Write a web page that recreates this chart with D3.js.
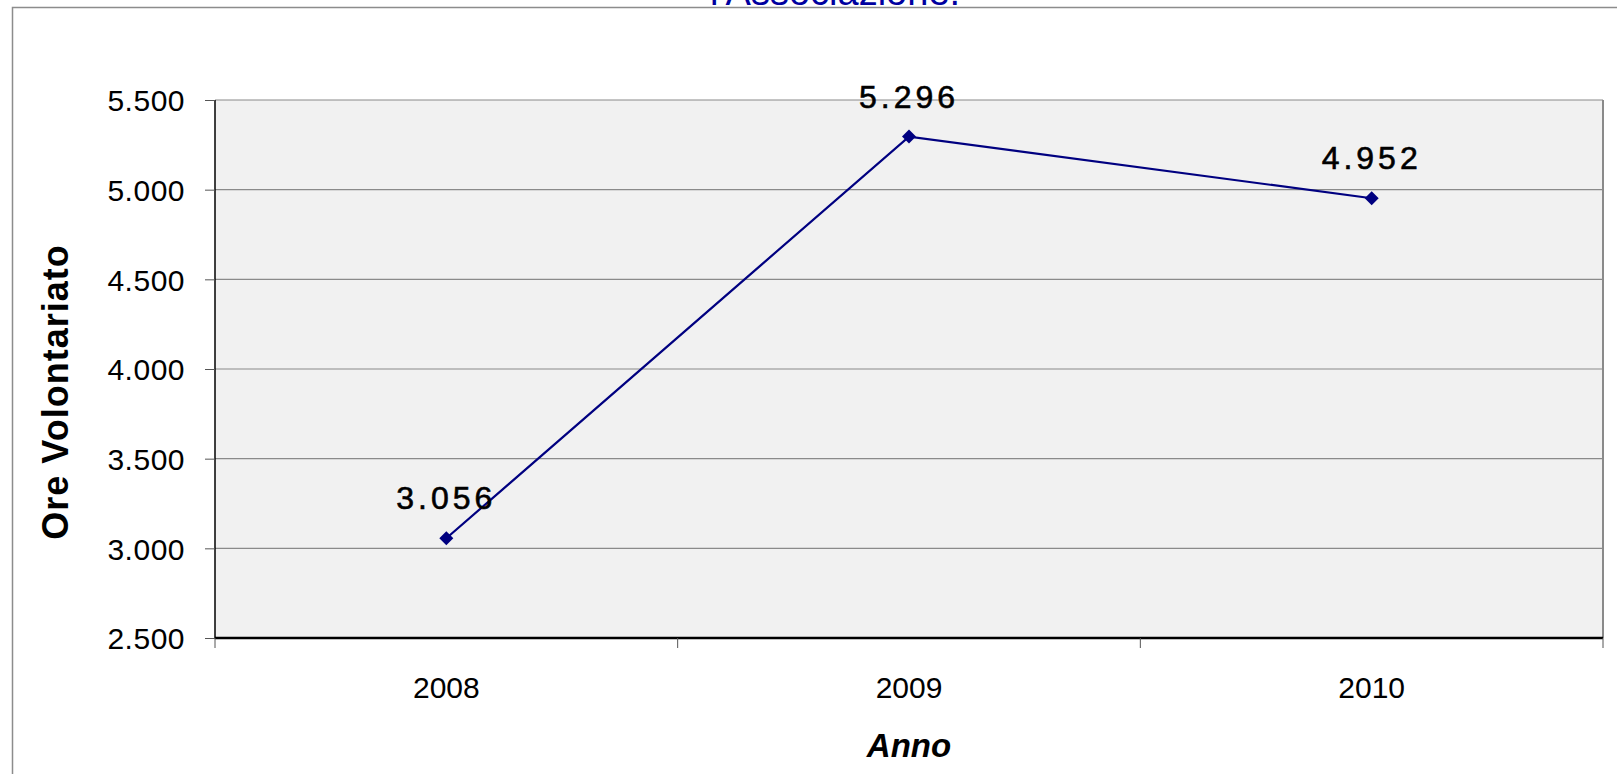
<!DOCTYPE html>
<html lang="it">
<head>
<meta charset="utf-8">
<title>Ore Volontariato</title>
<script src="https://d3js.org/d3.v7.min.js"></script>
<style>
  body { margin: 0; background: #fff; }
  svg text { font-family: "Liberation Sans", Arial, sans-serif; }
</style>
</head>
<body>
<div id="chart"></div>
<script>
// data
var anni = ["2008", "2009", "2010"];
var ore = [3056, 5296, 4952];
var yTicks = [2500, 3000, 3500, 4000, 4500, 5000, 5500];

var W = 1617, H = 774;
var margin = {top: 100, right: 14, bottom: 136, left: 215};
var width = W - margin.left - margin.right,
    height = H - margin.top - margin.bottom;

// numbers with "." as thousands separator
var it = d3.formatLocale({decimal: ",", thousands: ".", grouping: [3], currency: ["", " €"]});
var fmt = it.format(",d");

var svg = d3.select("#chart")
  .append("svg")
    .attr("width", W)
    .attr("height", H);

// outer chart frame (continues past right / bottom edge)
svg.append("rect")
  .attr("x", 12.5).attr("y", 7.5)
  .attr("width", W + 20).attr("height", H + 20)
  .attr("fill", "none")
  .attr("stroke", "#8c8c8c")
  .attr("stroke-width", 1.5);

// title, its last line only partly visible at the top
svg.append("text")
  .attr("x", 835).attr("y", 5)
  .attr("text-anchor", "middle")
  .attr("fill", "#0000a0")
  .style("font-size", "38px")
  .text("l'Associazione.");

var g = svg.append("g")
  .attr("transform", "translate(" + margin.left + "," + margin.top + ")");

var x = d3.scaleBand().domain(anni).range([0, width]).padding(0);
var y = d3.scaleLinear().domain([2500, 5500]).range([height, 0]);

// plot area
g.append("rect")
  .attr("width", width).attr("height", height)
  .attr("fill", "#f1f1f1");

// gridlines
g.selectAll(".grid")
  .data(yTicks.slice(1))
  .enter().append("line")
    .attr("x1", 0).attr("x2", width)
    .attr("y1", function(d) { return y(d); })
    .attr("y2", function(d) { return y(d); })
    .attr("stroke", "#8a8a8a")
    .attr("stroke-width", 1.2);

// right border of plot area
g.append("line")
  .attr("x1", width).attr("x2", width)
  .attr("y1", 0).attr("y2", height)
  .attr("stroke", "#8a8a8a")
  .attr("stroke-width", 2);

// Y axis
var yAxis = g.append("g")
  .call(d3.axisLeft(y).tickValues(yTicks).tickFormat(fmt).tickSize(10).tickPadding(20));
yAxis.select(".domain").attr("stroke", "#000").attr("stroke-width", 1.5).attr("d", "M0," + height + "V0");
yAxis.selectAll(".tick line").attr("stroke", "#555");
yAxis.selectAll("text")
  .attr("fill", "#000")
  .style("font-size", "30px")
  .style("letter-spacing", "0.5px")
  .attr("dy", "0.36em");

// X axis: ticks between categories
var xAxis = g.append("g")
  .attr("transform", "translate(0," + height + ")");
xAxis.append("line")
  .attr("x1", 0).attr("x2", width)
  .attr("stroke", "#000").attr("stroke-width", 2.5);
var bounds = anni.map(function(d) { return x(d); }).concat([width]);
xAxis.selectAll(".xt")
  .data(bounds)
  .enter().append("line")
    .attr("x1", function(d) { return d; })
    .attr("x2", function(d) { return d; })
    .attr("y1", 0).attr("y2", 10)
    .attr("stroke", "#555");
xAxis.selectAll(".xl")
  .data(anni)
  .enter().append("text")
    .attr("x", function(d) { return x(d) + x.bandwidth() / 2; })
    .attr("y", 60)
    .attr("text-anchor", "middle")
    .style("font-size", "30px")
    .text(function(d) { return d; });

// line + markers
var pts = anni.map(function(a, i) { return {anno: a, v: ore[i]}; });
var line = d3.line()
  .x(function(d) { return x(d.anno) + x.bandwidth() / 2; })
  .y(function(d) { return y(d.v); });

g.append("path")
  .datum(pts)
  .attr("d", line)
  .attr("fill", "none")
  .attr("stroke", "#000080")
  .attr("stroke-width", 2.2);

g.selectAll(".pt")
  .data(pts)
  .enter().append("path")
    .attr("transform", function(d) {
      return "translate(" + (x(d.anno) + x.bandwidth() / 2) + "," + y(d.v) + ")";
    })
    .attr("d", "M0,-7L7,0L0,7L-7,0Z")
    .attr("fill", "#000080");

// data labels
g.selectAll(".lbl")
  .data(pts)
  .enter().append("text")
    .attr("x", function(d) { return x(d.anno) + x.bandwidth() / 2; })
    .attr("y", function(d) { return y(d.v) - 29; })
    .attr("text-anchor", "middle")
    .attr("stroke", "#000")
    .attr("stroke-width", 0.6)
    .style("font-size", "32px")
    .style("letter-spacing", "4px")
    .text(function(d) { return fmt(d.v); });

// axis titles
svg.append("text")
  .attr("transform", "translate(68,392) rotate(-90)")
  .attr("text-anchor", "middle")
  .style("font-size", "36px")
  .style("letter-spacing", "1px")
  .style("font-weight", "bold")
  .text("Ore Volontariato");

svg.append("text")
  .attr("x", margin.left + width / 2)
  .attr("y", 757)
  .attr("text-anchor", "middle")
  .style("font-size", "33px")
  .style("font-weight", "bold")
  .style("font-style", "italic")
  .text("Anno");
</script>
</body>
</html>
